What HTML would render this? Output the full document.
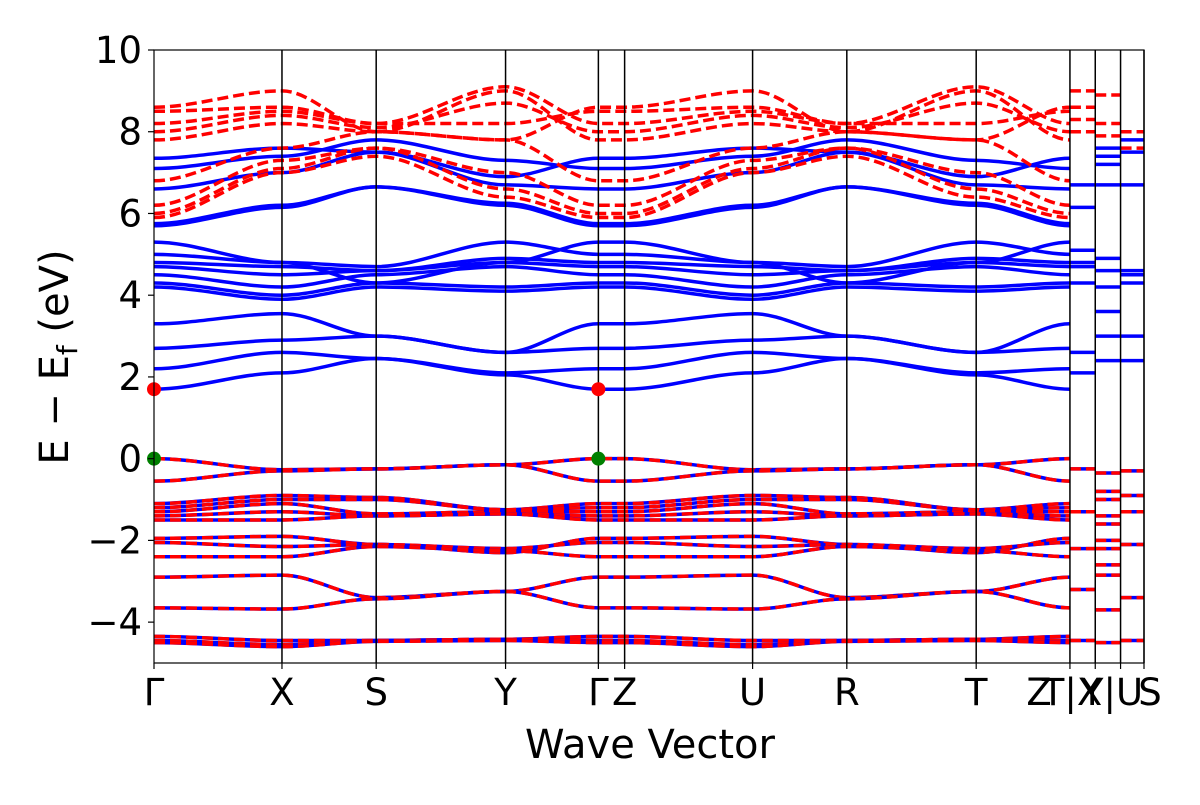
<!DOCTYPE html>
<html><head><meta charset="utf-8"><style>
body{margin:0;background:#fff}
svg text{font-family:"DejaVu Sans","Liberation Sans",sans-serif;fill:#000}
</style></head><body>
<svg id="c" width="1200" height="800"></svg>
<script>
const kLabels=["Γ","X","S","Y","Γ","Z","U","R","T","","","",""];
const extraLabels=[["Z",1039],["T|X",1072],["Y|U",1112],["S",1150]];
const kPos=[0,1.365,2.37,3.75,4.74,5.02,6.385,7.39,8.77,9.77,10.04,10.31,10.56];
const yTicks=[-4,-2,0,2,4,6,8,10];
const valence=[
[0,-0.27,-0.25,-0.15,0,0,-0.27,-0.25,-0.15,0],
[-0.55,-0.3,-0.25,-0.15,-0.55,-0.55,-0.3,-0.25,-0.15,-0.55],
[-1.1,-0.9,-0.95,-1.25,-1.1,-1.1,-0.9,-0.95,-1.25,-1.1],
[-1.2,-1.0,-1.0,-1.25,-1.2,-1.2,-1.0,-1.0,-1.25,-1.2],
[-1.3,-1.1,-1.35,-1.3,-1.3,-1.3,-1.1,-1.35,-1.3,-1.3],
[-1.4,-1.3,-1.4,-1.35,-1.4,-1.4,-1.3,-1.4,-1.35,-1.4],
[-1.5,-1.5,-1.4,-1.35,-1.5,-1.5,-1.5,-1.4,-1.35,-1.5],
[-1.95,-1.9,-2.1,-2.3,-1.95,-1.95,-1.9,-2.1,-2.3,-1.95],
[-2.05,-2.15,-2.1,-2.2,-2.05,-2.05,-2.15,-2.1,-2.2,-2.05],
[-2.4,-2.4,-2.15,-2.25,-2.4,-2.4,-2.4,-2.15,-2.25,-2.4],
[-2.9,-2.85,-3.4,-3.25,-2.9,-2.9,-2.85,-3.4,-3.25,-2.9],
[-3.65,-3.68,-3.43,-3.25,-3.65,-3.65,-3.68,-3.43,-3.25,-3.65],
[-4.35,-4.45,-4.45,-4.42,-4.35,-4.35,-4.45,-4.45,-4.42,-4.35],
[-4.45,-4.55,-4.45,-4.42,-4.45,-4.45,-4.55,-4.45,-4.42,-4.45],
[-4.5,-4.6,-4.47,-4.45,-4.5,-4.5,-4.6,-4.47,-4.45,-4.5]];
const condBlue=[
[1.7,2.1,2.45,2.05,1.7,1.7,2.1,2.45,2.05,1.7],
[2.2,2.6,2.45,2.1,2.2,2.2,2.6,2.45,2.1,2.2],
[2.7,2.9,3.0,2.6,2.7,2.7,2.9,3.0,2.6,2.7],
[3.3,3.55,3.0,2.6,3.3,3.3,3.55,3.0,2.6,3.3],
[4.2,3.9,4.2,4.1,4.2,4.2,3.9,4.2,4.1,4.2],
[4.3,4.0,4.3,4.2,4.3,4.3,4.0,4.3,4.2,4.3],
[4.5,4.2,4.5,4.7,4.5,4.5,4.2,4.5,4.7,4.5],
[4.7,4.5,4.6,4.8,4.7,4.7,4.5,4.6,4.8,4.7],
[4.8,4.7,4.6,4.9,4.8,4.8,4.7,4.6,4.9,4.8],
[5.0,4.8,4.7,5.3,5.0,5.0,4.8,4.7,5.3,5.0],
[5.3,4.8,4.3,4.8,5.3,5.3,4.8,4.3,4.8,5.3],
[5.7,6.15,6.65,6.2,5.7,5.7,6.15,6.65,6.2,5.7],
[5.75,6.2,6.65,6.25,5.75,5.75,6.2,6.65,6.25,5.75],
[6.6,7.0,7.5,6.7,6.6,6.6,7.0,7.5,6.7,6.6],
[7.1,7.4,7.8,7.3,7.1,7.1,7.4,7.8,7.3,7.1],
[7.35,7.6,7.5,6.9,7.35,7.35,7.6,7.5,6.9,7.35]];
const condRed=[
[5.9,7.0,7.4,6.4,5.9,5.9,7.0,7.4,6.4,5.9],
[6.0,7.1,7.6,6.6,6.0,6.0,7.1,7.6,6.6,6.0],
[6.2,7.3,7.6,7.0,6.2,6.2,7.3,7.6,7.0,6.2],
[6.8,7.6,8.0,7.8,6.8,6.8,7.6,8.0,7.8,6.8],
[7.8,8.2,8.0,9.0,7.8,7.8,8.2,8.0,9.0,7.8],
[8.0,8.4,8.1,8.7,8.0,8.0,8.4,8.1,8.7,8.0],
[8.2,8.5,8.2,9.1,8.2,8.2,8.5,8.2,9.1,8.2],
[8.5,8.6,8.2,8.2,8.5,8.5,8.6,8.2,8.2,8.5],
[8.6,9.0,8.0,7.8,8.6,8.6,9.0,8.0,7.8,8.6]];
const shortBlue=[[6.7,6.15,5.1,4.8,4.7,4.3,2.6,2.1],[7.6,7.4,7.2,6.7,4.9,4.6,4.2,3.6,3.0,2.4],[7.8,7.5,6.7,4.6,4.5,4.3,3.0,2.4]];
const shortRed=[[9.0,8.6,8.3,8.0],[8.9,8.2,7.9],[8.0,7.6]];
const shortVal=[[-0.25,-1.3,-2.2,-3.2,-4.45],[-0.35,-0.8,-1.0,-1.4,-1.6,-2.0,-2.2,-2.6,-2.85,-3.7,-4.5],[-0.3,-0.9,-1.3,-2.1,-3.4,-4.45]];
const redDots=[[0,1.7],[4.74,1.7]];
const greenDots=[[0,0],[4.74,0]];

const L=154,R=1144,T=50,B=663,kMax=10.56,yMin=-5,yMax=10;
const X=k=>L+(k/kMax)*(R-L);
const Y=e=>T+(yMax-e)/(yMax-yMin)*(B-T);
const svg=document.getElementById('c');
const NS='http://www.w3.org/2000/svg';
function mk(tag,attrs,parent){const el=document.createElementNS(NS,tag);for(const a in attrs)el.setAttribute(a,attrs[a]);(parent||svg).appendChild(el);return el;}
const defs=mk('clipPath',{id:'clip'});mk('rect',{x:L,y:T,width:R-L,height:B-T},defs);
const g=mk('g',{'clip-path':'url(#clip)'});


function pathFor(band){let d='M'+X(kPos[0])+' '+Y(band[0]);
 for(let i=1;i<band.length;i++){const x0=X(kPos[i-1]),x1=X(kPos[i]),y0=Y(band[i-1]),y1=Y(band[i]);const dx=(x1-x0)/3;
 d+=` C${x0+dx} ${y0} ${x1-dx} ${y1} ${x1} ${y1}`;}return d;}
function draw(band,color,dash,name){const p=mk('path',{d:pathFor(band),fill:'none',stroke:color,'stroke-width':3.5});if(dash)p.setAttribute('stroke-dasharray','11 5');
 
 
 g.appendChild(p);}
function flat(seg,e,color,dash,name){const p=mk('line',{x1:X(kPos[9+seg]),x2:X(kPos[10+seg]),y1:Y(e),y2:Y(e),stroke:color,'stroke-width':3.5},g);if(dash)p.setAttribute('stroke-dasharray','11 5');
 
 }
condBlue.forEach(b=>draw(b,'#0000ff',false,'conduction-band-up'));
condRed.forEach(b=>draw(b,'#ff0000',true,'conduction-band-down'));
valence.forEach(b=>{draw(b,'#0000ff',false,'valence-band-up');draw(b,'#ff0000',true,'valence-band-down');});
shortBlue.forEach((s,i)=>s.forEach(e=>flat(i,e,'#0000ff',false,'short-segment-band')));
shortRed.forEach((s,i)=>s.forEach(e=>flat(i,e,'#ff0000',true,'short-segment-band')));
shortVal.forEach((s,i)=>s.forEach(e=>{flat(i,e,'#0000ff',false,'short-segment-band');flat(i,e,'#ff0000',true,'short-segment-band');}));
kPos.forEach((k,i)=>{if(i===0)return;const l=mk('line',{x1:X(k),x2:X(k),y1:T,y2:B,stroke:'#000','stroke-width':1.5});
 
 });
redDots.forEach(p=>{const c=mk('circle',{cx:X(p[0]),cy:Y(p[1]),r:7,fill:'#ff0000'});
 
 });
greenDots.forEach(p=>{const c=mk('circle',{cx:X(p[0]),cy:Y(p[1]),r:7,fill:'#008000'});
 
 });
const fr=mk('rect',{x:L,y:T,width:R-L,height:B-T,fill:'none',stroke:'#000','stroke-width':1.2});


yTicks.forEach(v=>{mk('line',{x1:L-6,x2:L,y1:Y(v),y2:Y(v),stroke:'#000','stroke-width':1.2});
 const t=mk('text',{x:L-12,y:Y(v)+13,'text-anchor':'end','font-size':37});t.textContent=v<0?'−'+(-v):String(v);
 
 });
kLabels.forEach((s,i)=>{mk('line',{x1:X(kPos[i]),x2:X(kPos[i]),y1:B,y2:B+6,stroke:'#000','stroke-width':1.2});
 if(!s)return;
 const t=mk('text',{x:X(kPos[i]),y:B+42,'text-anchor':'middle','font-size':37});t.textContent=s;
 
 });
extraLabels.forEach(p=>{const t=mk('text',{x:p[1],y:B+42,'text-anchor':'middle','font-size':37});t.textContent=p[0];
 
 });
const xt=mk('text',{x:650,y:758,'text-anchor':'middle','font-size':40});xt.textContent='Wave Vector';


const yt=mk('text',{x:0,y:0,'text-anchor':'middle','font-size':40,transform:'translate(68,357) rotate(-90)'});
yt.innerHTML='E − E<tspan font-size="28" dy="9">f</tspan><tspan dy="-9"> (eV)</tspan>';


</script>
</body></html>
